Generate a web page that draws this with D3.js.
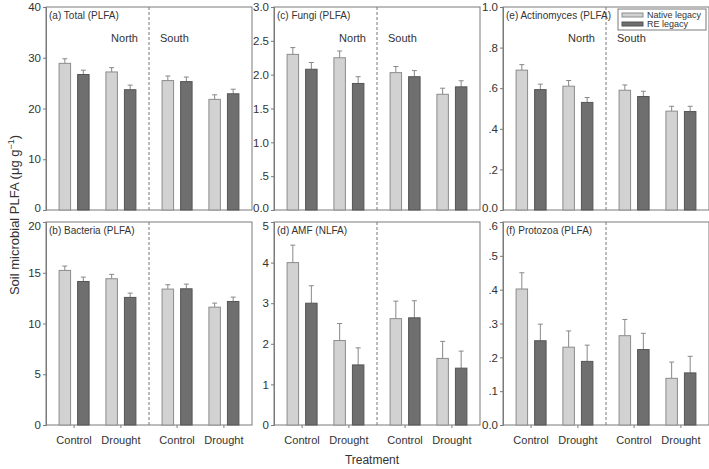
<!DOCTYPE html>
<html>
<head>
<meta charset="utf-8">
<script src="https://cdn.jsdelivr.net/npm/d3@7"></script>
<style>
  body { margin: 0; background: #fff; }
  text { font-family: "Liberation Sans", Arial, sans-serif; fill: #333; }
</style>
</head>
<body>
<svg id="chart" width="709" height="469"></svg>
<script>
// ---------- data ----------
const regions = ["North", "South"];
const treatments = ["Control", "Drought"];
const seriesNames = ["Native legacy", "RE legacy"];
// order of values: North-Control, North-Drought, South-Control, South-Drought
const totalNative = [28.9, 27.2, 25.5, 21.8];
const totalNativeErr = [0.9, 0.85, 0.9, 0.9];
const totalRE = [26.7, 23.7, 25.3, 22.9];
const totalREErr = [0.85, 0.9, 0.9, 0.9];

const bacteriaNative = [15.23, 14.41, 13.39, 11.61];
const bacteriaNativeErr = [0.43, 0.43, 0.43, 0.40];
const bacteriaRE = [14.14, 12.57, 13.42, 12.17];
const bacteriaREErr = [0.43, 0.42, 0.46, 0.43];

const fungiNative = [2.30, 2.25, 2.03, 1.71];
const fungiNativeErr = [0.10, 0.10, 0.09, 0.09];
const fungiRE = [2.08, 1.87, 1.97, 1.82];
const fungiREErr = [0.10, 0.10, 0.09, 0.09];

const amfNative = [4.00, 2.08, 2.62, 1.64];
const amfNativeErr = [0.43, 0.42, 0.43, 0.42];
const amfRE = [3.00, 1.48, 2.64, 1.40];
const amfREErr = [0.43, 0.42, 0.42, 0.42];

const actinoNative = [0.689, 0.610, 0.590, 0.487];
const actinoNativeErr = [0.027, 0.028, 0.026, 0.024];
const actinoRE = [0.593, 0.530, 0.559, 0.485];
const actinoREErr = [0.027, 0.024, 0.026, 0.026];

const protozoaNative = [0.402, 0.230, 0.264, 0.138];
const protozoaNativeErr = [0.048, 0.048, 0.048, 0.048];
const protozoaRE = [0.249, 0.188, 0.223, 0.154];
const protozoaREErr = [0.049, 0.048, 0.048, 0.049];

const totalTicks = [0, 10, 20, 30, 40];
const bacteriaTicks = [0, 5, 10, 15, 20];
const fungiTicks = [0, 0.5, 1.0, 1.5, 2.0, 2.5, 3.0];
const amfTicks = [0, 1, 2, 3, 4, 5];
const actinoTicks = [0, 0.2, 0.4, 0.6, 0.8, 1.0];
const protozoaTicks = [0, 0.1, 0.2, 0.3, 0.4, 0.5, 0.6];

const panelTitles = ["(a) Total (PLFA)", "(b) Bacteria (PLFA)", "(c) Fungi (PLFA)",
                     "(d) AMF (NLFA)", "(e) Actinomyces (PLFA)", "(f) Protozoa (PLFA)"];

// ---------- layout ----------
const svg = d3.select("#chart");
const colFill = ["#d2d2d2", "#6f6f6f"];
const colStroke = ["#8c8c8c", "#555555"];
const axisColor = "#7a7a7a";

const intFmt = v => String(v);
const decFmt = v => v === 0 ? "0.0" : (v < 1 ? d3.format(".1f")(v).replace(/^0/, "") : d3.format(".1f")(v));

const panels = [
  {col: 0, row: 0, title: panelTitles[0], max: 40, ticks: totalTicks, fmt: intFmt, d: [totalNative, totalRE], e: [totalNativeErr, totalREErr]},
  {col: 0, row: 1, title: panelTitles[1], max: 20, ticks: bacteriaTicks, fmt: intFmt, d: [bacteriaNative, bacteriaRE], e: [bacteriaNativeErr, bacteriaREErr]},
  {col: 1, row: 0, title: panelTitles[2], max: 3, ticks: fungiTicks, fmt: decFmt, d: [fungiNative, fungiRE], e: [fungiNativeErr, fungiREErr]},
  {col: 1, row: 1, title: panelTitles[3], max: 5, ticks: amfTicks, fmt: intFmt, d: [amfNative, amfRE], e: [amfNativeErr, amfREErr]},
  {col: 2, row: 0, title: panelTitles[4], max: 1, ticks: actinoTicks, fmt: decFmt, d: [actinoNative, actinoRE], e: [actinoNativeErr, actinoREErr]},
  {col: 2, row: 1, title: panelTitles[5], max: 0.6, ticks: protozoaTicks, fmt: decFmt, d: [protozoaNative, protozoaRE], e: [protozoaNativeErr, protozoaREErr]},
];

const colX = [46, 274, 503];
const rowY = [7, 222];
const pw = 206, ph = 203;

panels.forEach(p => {
  const g = svg.append("g").attr("transform", `translate(${colX[p.col]},${rowY[p.row]})`);
  const y = d3.scaleLinear().domain([0, p.max]).range([ph, 0]);
  const xRegion = d3.scaleBand().domain(regions).range([0, pw]);
  const xTreat = d3.scalePoint().domain(treatments).range([0, xRegion.bandwidth()]).padding(0.6);
  const xSeries = d3.scaleBand().domain(seriesNames).range([-15, 15]).paddingInner(0.38).paddingOuter(0);

  const cells = [];
  regions.forEach((r, ri) => treatments.forEach((t, ti) => {
    const idx = ri * 2 + ti;
    seriesNames.forEach((s, si) => cells.push({r, t, s, si, v: p.d[si][idx], err: p.e[si][idx]}));
  }));
  const cx = c => xRegion(c.r) + xTreat(c.t) + xSeries(c.s);

  // frame
  g.append("rect").attr("x", 0).attr("y", 0).attr("width", pw).attr("height", ph)
    .attr("fill", "none").attr("stroke", axisColor).attr("stroke-width", 1);

  // dashed separator
  g.append("line").attr("x1", xRegion("South")).attr("x2", xRegion("South"))
    .attr("y1", 0).attr("y2", ph).attr("stroke", "#777").attr("stroke-dasharray", "3,2");

  // error bars
  const eb = g.selectAll(".eb").data(cells).enter().append("g");
  eb.append("line")
    .attr("x1", c => cx(c) + xSeries.bandwidth() / 2).attr("x2", c => cx(c) + xSeries.bandwidth() / 2)
    .attr("y1", c => y(c.v)).attr("y2", c => y(c.v + c.err))
    .attr("stroke", "#888").attr("stroke-width", 1);
  eb.append("line")
    .attr("x1", c => cx(c) + xSeries.bandwidth() / 2 - 2.5).attr("x2", c => cx(c) + xSeries.bandwidth() / 2 + 2.5)
    .attr("y1", c => y(c.v + c.err)).attr("y2", c => y(c.v + c.err))
    .attr("stroke", "#888").attr("stroke-width", 1);

  // bars
  g.selectAll(".bar").data(cells).enter().append("rect")
    .attr("x", c => cx(c)).attr("width", xSeries.bandwidth())
    .attr("y", c => y(c.v)).attr("height", c => ph - y(c.v))
    .attr("fill", c => colFill[c.si]).attr("stroke", c => colStroke[c.si]).attr("stroke-width", 1);

  // y axis
  const ya = g.append("g").call(d3.axisLeft(y).tickValues(p.ticks).tickFormat(p.fmt).tickSize(3).tickPadding(2));
  ya.select(".domain").attr("stroke", axisColor);
  ya.selectAll(".tick line").attr("stroke", axisColor);
  ya.selectAll(".tick text").attr("font-size", 11.5).attr("fill", "#333")
    .style("font-family", '"Liberation Sans", Arial, sans-serif');
  // nudge the extreme labels apart where stacked panels meet
  ya.selectAll(".tick text").filter(v => v === 0).attr("dy", p.row === 0 ? "0.1em" : "0.32em");
  ya.selectAll(".tick text").filter(v => v === p.max).attr("dy", p.row === 1 ? "0.62em" : "0.32em");

  // panel title
  g.append("text").attr("x", 3).attr("y", 12).attr("font-size", 10).text(p.title);

  if (p.row === 0) {
    g.append("text").attr("x", xRegion("South") - 11).attr("y", 35).attr("text-anchor", "end")
      .attr("font-size", 11).text(regions[0]);
    g.append("text").attr("x", xRegion("South") + 11).attr("y", 35).attr("text-anchor", "start")
      .attr("font-size", 11).text(regions[1]);
  } else {
    // x ticks and labels
    regions.forEach(r => treatments.forEach(t => {
      const xx = xRegion(r) + xTreat(t);
      g.append("line").attr("x1", xx).attr("x2", xx).attr("y1", ph).attr("y2", ph + 3).attr("stroke", axisColor);
      g.append("text").attr("x", xx).attr("y", ph + 19).attr("text-anchor", "middle")
        .attr("font-size", 11).text(t);
    }));
  }
});

// legend in panel (e)
const lg = svg.append("g").attr("transform", "translate(618,9)");
lg.append("rect").attr("x", 0).attr("y", 0).attr("width", 88).attr("height", 21)
  .attr("fill", "#fff").attr("stroke", axisColor);
seriesNames.forEach((s, i) => {
  lg.append("rect").attr("x", 4).attr("y", 4 + i * 9).attr("width", 21).attr("height", 4)
    .attr("fill", colFill[i]).attr("stroke", colStroke[i]).attr("stroke-width", 1);
  lg.append("text").attr("x", 29).attr("y", 9 + i * 9).attr("font-size", 9).text(s);
});

// axis titles
svg.append("text").attr("transform", "translate(19,215) rotate(-90)").attr("text-anchor", "middle")
  .attr("font-size", 13)
  .html('Soil microbial PLFA (μg g<tspan dy="-5" font-size="9">−1</tspan><tspan dy="5">)</tspan>');
svg.append("text").attr("x", 372).attr("y", 464).attr("text-anchor", "middle")
  .attr("font-size", 12).text("Treatment");
</script>
</body>
</html>
